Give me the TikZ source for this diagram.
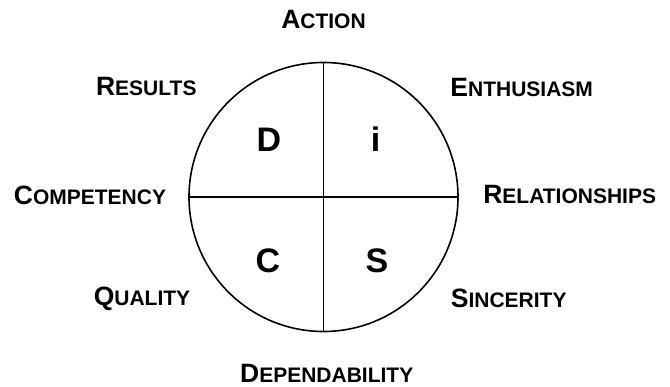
\documentclass[tikz,border=0pt]{standalone}
\usepackage{fontspec}
\setmainfont{Liberation Sans}
\usepackage{tikz}

\newcommand{\capword}[2]{{\fontsize{26.5}{30}\selectfont #1}{\fontsize{21}{25}\selectfont #2}}

\begin{document}
\begin{tikzpicture}[x=1pt, y=-1pt,
    trait/.style={anchor=base, inner sep=0pt, font=\bfseries},
    quad/.style={anchor=base, inner sep=0pt, font=\bfseries\fontsize{34}{40}\selectfont}]
  \useasboundingbox (0, 0) rectangle (670, 387);

  % Circle
  \node[draw, line width=1.6pt, circle, minimum size=269pt, inner sep=0pt] (disc) at (323.5, 197) {};
  \draw[line width=1.6pt] (disc.north) -- (disc.south);
  \draw[line width=1.6pt] (disc.west) -- (disc.east);

  % Quadrants
  \node[quad] (dom) at (269, 151.7) {D};
  \node[quad] (inf) at (375.5, 151.7) {i};
  \node[quad] (con) at (268, 272.5) {C};
  \node[quad] (ste) at (377, 272.5) {S};

  % Traits
  \node[trait] (action) at (323.5, 29) {\capword{A}{CTION}};
  \node[trait] (results) at (146.3, 96) {\capword{R}{ESULTS}};
  \node[trait] (enthus) at (521.7, 97) {\capword{E}{NTHUSIASM}};
  \node[trait] (compet) at (90, 205) {\capword{C}{OMPETENCY}};
  \node[trait] (relat) at (569.7, 203.5) {\capword{R}{ELATIONSHIPS}};
  \node[trait] (quality) at (142, 306) {\capword{Q}{UALITY}};
  \node[trait] (sincer) at (508.7, 308) {\capword{S}{INCERITY}};
  \node[trait] (depend) at (326.7, 382.7) {\capword{D}{EPENDABILITY}};
\end{tikzpicture}
\end{document}
